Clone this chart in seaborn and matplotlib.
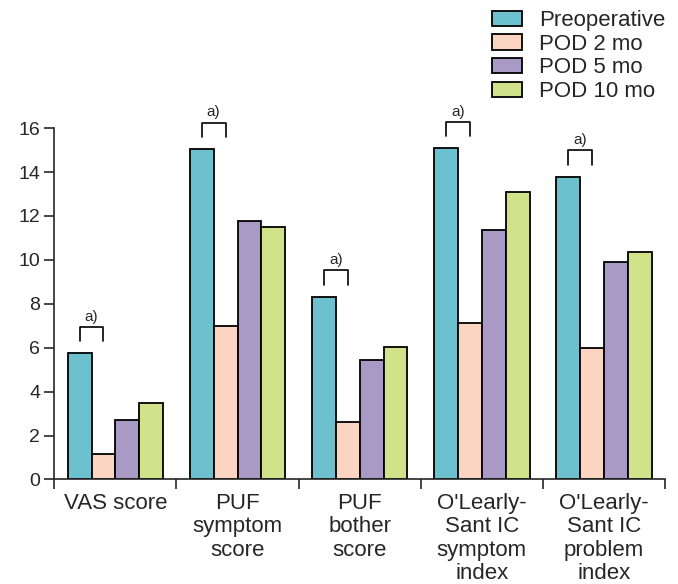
import numpy as np
import pandas as pd
import seaborn as sns
import matplotlib.pyplot as plt

# values
categories = ["VAS score", "PUF\nsymptom\nscore", "PUF\nbother\nscore",
              "O'Learly-\nSant IC\nsymptom\nindex", "O'Learly-\nSant IC\nproblem\nindex"]
periods = ["Preoperative", "POD 2 mo", "POD 5 mo", "POD 10 mo"]
preop = [5.75, 15.05, 8.32, 15.08, 13.79]
pod2 = [1.14, 6.97, 2.62, 7.13, 5.98]
pod5 = [2.73, 11.78, 5.45, 11.34, 9.90]
pod10 = [3.46, 11.52, 6.04, 13.07, 10.36]
colors = ["#6DC1CE", "#FBD5C1", "#A999C5", "#D2E28A"]
sig_label = "a)"

df = pd.DataFrame({
    "category": categories * 4,
    "period": np.repeat(periods, len(categories)),
    "value": preop + pod2 + pod5 + pod10,
})

sns.set_style("ticks")
plt.rcParams["font.family"] = ["Liberation Sans", "DejaVu Sans"]

fig = plt.figure(figsize=(6.78, 5.84), dpi=100)
ax = fig.add_axes([0.080, 0.179, 0.901, 0.658])

sns.barplot(data=df, x="category", y="value", hue="period", order=categories,
            hue_order=periods, palette=colors, width=0.78, edgecolor="black",
            linewidth=1.3, saturation=1, errorbar=None, ax=ax)

ax.set_xlim(-0.5, 4.5)
ax.set_ylim(0, 17.5)
ax.set_yticks(range(0, 17, 2))
ax.spines["left"].set_bounds(0, 16)
sns.despine(ax=ax)
for s in ["left", "bottom"]:
    ax.spines[s].set_linewidth(1.2)
ax.set_xlabel("")
ax.set_ylabel("")

ax.tick_params(axis="y", length=7, width=1.2, labelsize=14, pad=3)
ax.tick_params(axis="x", which="major", length=0, pad=9.5)
ax.set_xticks(np.arange(-0.5, 5, 1), minor=True)
ax.tick_params(axis="x", which="minor", length=7, width=1.2)
for lab in ax.get_xticklabels():
    lab.set_fontsize(16)
    lab.set_linespacing(1.16)

# significance brackets between preoperative and POD 2 mo bars
pre_bars = ax.containers[0]
p2_bars = ax.containers[1]
for b0, b1 in zip(pre_bars, p2_bars):
    x0 = b0.get_x() + b0.get_width() / 2
    x1 = b1.get_x() + b1.get_width() / 2
    h = b0.get_height()
    lo, hi = h + 0.55, h + 1.2
    ax.plot([x0, x0, x1, x1], [lo, hi, hi, lo], color="black", lw=1.2,
            clip_on=False)
    ax.text((x0 + x1) / 2, hi + 0.15, sig_label, ha="center", va="bottom",
            fontsize=11)

handles, labels = ax.get_legend_handles_labels()
if ax.get_legend() is not None:
    ax.get_legend().remove()
fig.legend(handles, labels, loc="upper left",
           bbox_to_anchor=(492 / 678, 1 - 10 / 584), frameon=False,
           fontsize=16, handlelength=1.35, handleheight=0.68,
           handletextpad=0.75, labelspacing=0.12, borderpad=0,
           borderaxespad=0)

fig.savefig("out.png", dpi=100)
